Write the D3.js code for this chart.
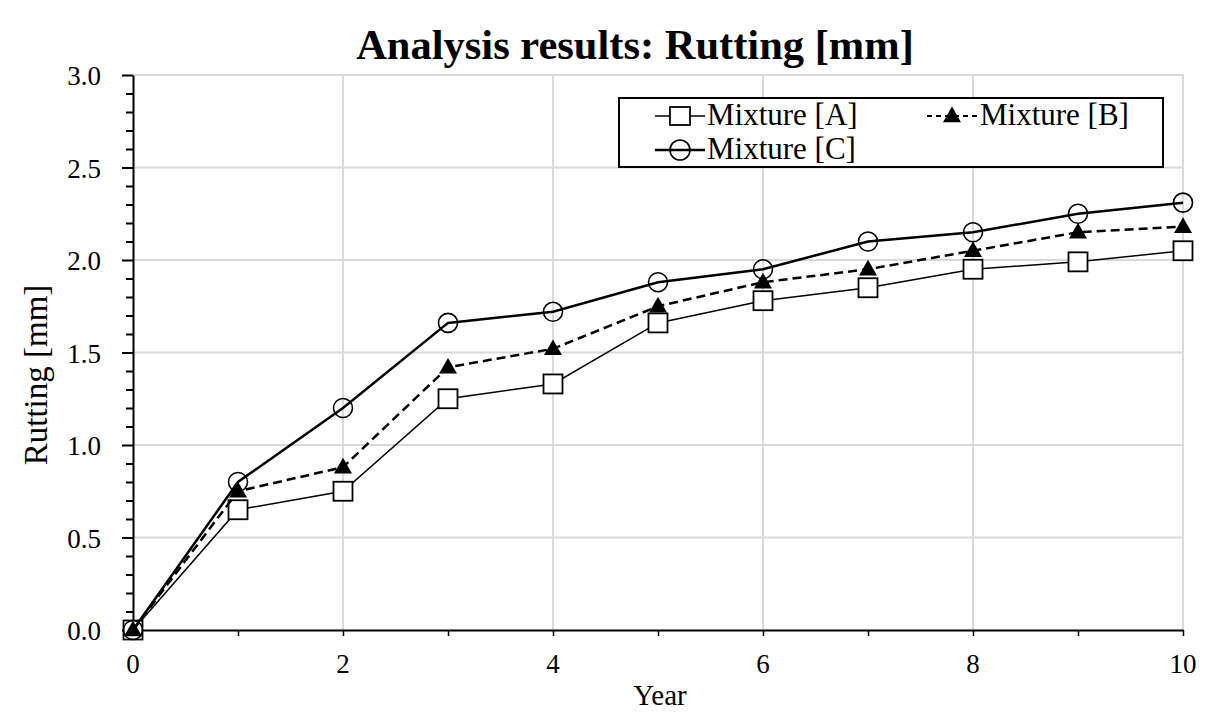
<!DOCTYPE html>
<html><head><meta charset="utf-8">
<script src="https://cdn.jsdelivr.net/npm/d3@7"></script>
<style>body{margin:0;background:#fff}svg{display:block}</style>
</head><body>
<svg id="c" width="1220" height="722"></svg>
<script>
const years = [0,1,2,3,4,5,6,7,8,9,10];
const mixA = [0,0.65,0.75,1.25,1.33,1.66,1.78,1.85,1.95,1.99,2.05];
const mixB = [0,0.75,0.88,1.42,1.52,1.75,1.88,1.95,2.05,2.15,2.18];
const mixC = [0,0.80,1.20,1.66,1.72,1.88,1.95,2.10,2.15,2.25,2.31];
const xTicks = [0,2,4,6,8,10];
const yTicks = [0,0.5,1.0,1.5,2.0,2.5,3.0];
const seriesNames = ["Mixture [A]","Mixture [B]","Mixture [C]"];

const svg = d3.select("#c");
const font = "'Liberation Serif','Times New Roman',serif";
const L=133,R=1183,T=75,B=630;
const x = d3.scaleLinear().domain([0,10]).range([L,R]);
const y = d3.scaleLinear().domain([0,3]).range([B,T]);

// grid
svg.append("g").selectAll("line").data(yTicks.filter(d=>d>0)).join("line")
 .attr("x1",L).attr("x2",R).attr("y1",d=>y(d)).attr("y2",d=>y(d))
 .attr("stroke","#d9d9d9").attr("stroke-width",2);
svg.append("g").selectAll("line").data(xTicks.filter(d=>d>0)).join("line")
 .attr("x1",d=>x(d)).attr("x2",d=>x(d)).attr("y1",T).attr("y2",B)
 .attr("stroke","#d9d9d9").attr("stroke-width",2);

// y axis: minor ticks
const minorY = d3.range(0,31).map(i=>i/10).filter(v=>Math.round(v*10)%5!==0);
const yAx = svg.append("g").attr("transform",`translate(${L},0)`)
 .call(d3.axisLeft(y).tickValues(minorY).tickSize(7).tickSizeOuter(0).tickFormat(""));
yAx.select(".domain").attr("stroke","#000").attr("stroke-width",2);
yAx.selectAll(".tick line").attr("stroke","#000").attr("stroke-width",2);
const yAxM = svg.append("g").attr("transform",`translate(${L},0)`)
 .call(d3.axisLeft(y).tickValues(yTicks).tickSize(11).tickSizeOuter(0).tickFormat(""));
yAxM.select(".domain").remove();
yAxM.selectAll(".tick line").attr("stroke","#000").attr("stroke-width",2);
svg.append("g").selectAll("text").data(yTicks).join("text")
 .attr("x",101).attr("y",d=>y(d)+10).attr("text-anchor","end")
 .attr("font-family",font).attr("font-size",27).text(d=>d.toFixed(1));

// x axis
const xAx = svg.append("g").attr("transform",`translate(0,${B})`)
 .call(d3.axisBottom(x).tickValues(years).tickSize(6).tickSizeOuter(0).tickFormat(""));
xAx.select(".domain").attr("stroke","#000").attr("stroke-width",2);
xAx.selectAll(".tick line").attr("stroke","#000").attr("stroke-width",1.5);
svg.append("g").selectAll("text").data(xTicks).join("text")
 .attr("x",d=>x(d)).attr("y",673).attr("text-anchor","middle")
 .attr("font-family",font).attr("font-size",27).text(d=>d);

// titles
svg.append("text").attr("x",635).attr("y",59).attr("text-anchor","middle")
 .attr("font-family",font).attr("font-weight","bold").attr("font-size",42.5)
 .text("Analysis results: Rutting [mm]");
svg.append("text").attr("x",660).attr("y",705).attr("text-anchor","middle")
 .attr("font-family",font).attr("font-size",29).text("Year");
svg.append("text").attr("transform","translate(47,375) rotate(-90)").attr("text-anchor","middle")
 .attr("font-family",font).attr("font-size",33).text("Rutting [mm]");

const line = d3.line().x((d,i)=>x(years[i])).y(d=>y(d));
const tri = d3.symbol().type(d3.symbolTriangle).size(140);

function drawSeries(vals, style){
  svg.append("path").datum(vals).attr("d",line).attr("fill","none")
    .attr("stroke","#000").attr("stroke-width",style.w)
    .attr("stroke-dasharray",style.dash||null);
}
function marker(g, kind, cx, cy){
  if(kind==="sq") g.append("rect").attr("x",cx-9.5).attr("y",cy-9.5).attr("width",19).attr("height",19)
     .attr("fill","#fff").attr("stroke","#000").attr("stroke-width",1.8);
  else if(kind==="tri") g.append("path").attr("d",tri).attr("transform",`translate(${cx},${cy+1})`).attr("fill","#000");
  else g.append("circle").attr("cx",cx).attr("cy",cy).attr("r",9.5).attr("fill","none")
     .attr("stroke","#000").attr("stroke-width",1.6);
}
drawSeries(mixA,{w:1.5});
const gA = svg.append("g"); mixA.forEach((v,i)=>marker(gA,"sq",x(years[i]),y(v)));
drawSeries(mixB,{w:2.5,dash:"9,5"});
const gB = svg.append("g"); mixB.forEach((v,i)=>marker(gB,"tri",x(years[i]),y(v)));
drawSeries(mixC,{w:2.5});
const gC = svg.append("g"); mixC.forEach((v,i)=>marker(gC,"circ",x(years[i]),y(v)));

// legend
const lg = svg.append("g");
lg.append("rect").attr("x",619).attr("y",98).attr("width",544).attr("height",69)
 .attr("fill","#fff").attr("stroke","#000").attr("stroke-width",2);
const items = [
 {name:seriesNames[0],kind:"sq",x0:655,x1:705,tx:707,cy:116,ty:125,w:1.5,dash:null},
 {name:seriesNames[1],kind:"tri",x0:927,x1:977,tx:980,cy:116,ty:125,w:2,dash:"5,4"},
 {name:seriesNames[2],kind:"circ",x0:655,x1:705,tx:707,cy:150,ty:159,w:2.5,dash:null}
];
items.forEach(it=>{
  lg.append("line").attr("x1",it.x0).attr("x2",it.x1).attr("y1",it.cy).attr("y2",it.cy)
    .attr("stroke","#000").attr("stroke-width",it.w).attr("stroke-dasharray",it.dash);
  const cx = (it.x0+it.x1)/2;
  if(it.kind==="sq") lg.append("rect").attr("x",cx-10).attr("y",it.cy-9).attr("width",20).attr("height",18)
     .attr("fill","#fff").attr("stroke","#000").attr("stroke-width",1.8);
  else if(it.kind==="tri") lg.append("path").attr("d",d3.symbol().type(d3.symbolTriangle).size(140)).attr("transform",`translate(${cx},${it.cy+1})`).attr("fill","#000");
  else lg.append("circle").attr("cx",cx).attr("cy",it.cy).attr("r",10).attr("fill","none").attr("stroke","#000").attr("stroke-width",1.6);
  lg.append("text").attr("x",it.tx).attr("y",it.ty).attr("font-family",font).attr("font-size",31).text(it.name);
});
</script>
</body></html>
